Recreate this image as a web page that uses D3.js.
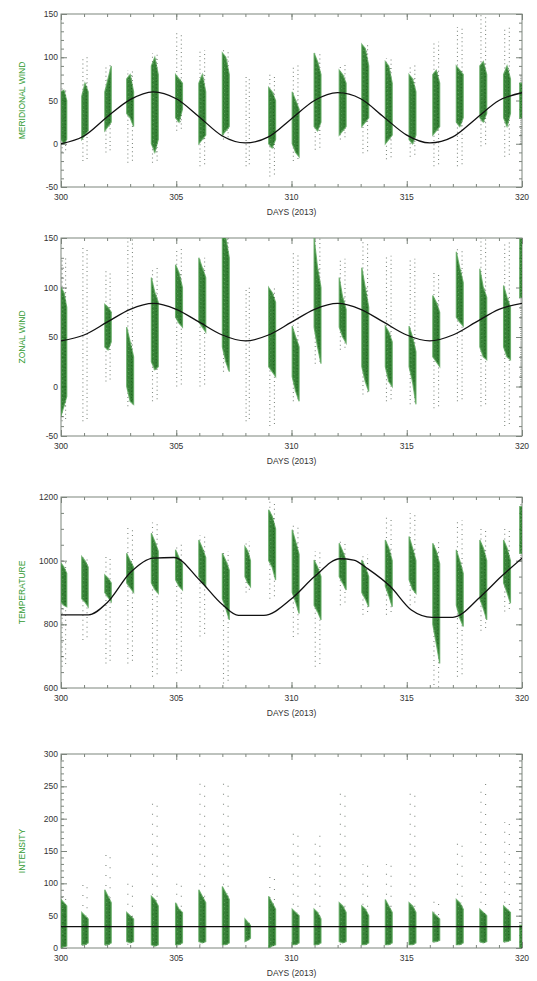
<!DOCTYPE html>
<html>
<head>
<meta charset="utf-8">
<script src="https://cdn.jsdelivr.net/npm/d3@7"></script>
<style>
  body { margin: 0; background: #fff; }
  svg { display: block; }
  text { font-family: "Liberation Sans", Arial, sans-serif; }
</style>
</head>
<body>
<svg id="chart" width="537" height="981"></svg>
<script>
// Observation nights (day of year 2013): start and end of each lidar run
const nightStart = [300.0, 300.9, 301.9, 302.85, 303.92, 304.97, 305.98, 307.0, 307.98, 309.01, 310.03,
                    310.98, 312.07, 313.05, 314.07, 315.1, 316.13, 317.15, 318.17, 319.2, 319.9];
const nightEnd   = [300.25, 301.18, 302.18, 303.15, 304.22, 305.27, 306.28, 307.3, 308.22, 309.31, 310.33,
                    311.28, 312.37, 313.35, 314.37, 315.4, 316.43, 317.45, 318.47, 319.5, 320.0];

const dayTicks = [300, 305, 310, 315, 320];

// Meridional wind (m/s): outer spread and dense core [lo,hi] at start, middle, end of each night
const merTicks = [-50, 0, 50, 100, 150];
const merSpread = [[-10,65],[-20,100],[-10,92],[-22,85],[-22,105],[15,128],[-26,108],[5,108],[-26,78],[-38,80],[-20,91],
                   [-7,105],[5,91],[-11,115],[-18,99],[-15,91],[-26,118],[-26,135],[-3,149],[-15,135],[0,80]];
const merCore = [[5,60,0,62,5,50],[5,55,10,70,15,60],[15,60,20,75,25,90],[35,75,30,80,20,60],[0,90,-10,100,5,80],
                 [30,80,25,75,40,70],[0,70,5,80,10,60],[10,105,15,100,20,80],null,[0,65,-5,60,5,50],[0,60,-10,50,-15,40],
                 [20,105,15,95,25,80],[10,85,15,80,20,70],[20,115,25,110,30,90],[0,95,5,90,10,70],[5,80,0,75,10,60],
                 [10,80,15,85,20,70],[25,90,20,85,30,80],[30,90,25,95,35,80],[30,80,20,90,35,75],[30,70,30,70,30,70]];
const merFitDays = [300,301,302,303,304,305,306,307,308,309,310,311,312,313,314,315,316,317,318,319,320];
const merFit = [0,9,31,51,60,52,31,9,1,8,29,50,59,52,31,10,1,8,29,50,59];

// Zonal wind (m/s)
const zonTicks = [-50, 0, 50, 100, 150];
const zonSpread = [[-35,130],[-35,140],[5,117],[-20,150],[-15,120],[0,140],[0,130],[15,150],[-35,100],[-40,100],[-15,135],
                   [23,152],[37,129],[-8,146],[-15,132],[-18,129],[-22,115],[-15,139],[-20,153],[-40,146],[0,149]];
const zonCore = [[-30,100,-20,95,-10,80],null,[40,83,37,80,45,75],[0,60,-15,45,-18,30],[25,110,17,95,20,85],
                 [70,123,64,115,60,100],[65,130,60,120,55,110],[40,150,25,150,15,130],null,[20,100,15,95,10,85],
                 [10,61,-5,50,-15,40],[60,150,40,120,23,100],[60,110,50,90,44,78],[20,120,5,100,-5,80],[20,61,5,55,0,45],
                 [20,61,5,50,-18,35],[30,92,25,85,20,75],[70,136,65,120,61,105],[40,119,30,100,27,90],
                 [40,102,30,90,27,80],[90,149,90,149,90,149]];
const zonFitDays = [300,301,302,303,304,305,306,307,308,309,310,311,312,313,314,315,316,317,318,319,320];
const zonFit = [46,52,65,78,84,78,65,52,46,52,65,78,84,78,65,52,46,52,65,78,84];

// Temperature (K)
const tmpTicks = [600, 800, 1000, 1200];
const tmpSpread = [[667,1000],[751,1013],[677,1013],[677,1107],[635,1120],[646,1050],[762,1080],[614,1030],[900,1060],
                   [880,1190],[760,1110],[667,1030],[860,1060],[830,1020],[830,1139],[860,1149],[594,1060],[635,1128],
                   [780,1100],[840,1100],[1000,1180]];
const tmpCore = [[870,992,860,980,855,960],[880,1013,870,1000,855,980],[900,955,885,945,871,930],[930,1023,915,1000,900,980],
                 [930,1086,910,1060,897,1030],[940,1034,920,1010,908,990],[950,1065,930,1040,918,1010],
                 [880,1023,850,1000,814,970],[950,1044,930,1030,918,1000],[1000,1160,980,1140,939,1100],
                 [900,1097,870,1060,834,1020],[860,1002,840,980,814,950],[950,1055,930,1030,908,1000],
                 [900,1002,880,980,855,950],[920,1065,890,1040,855,1000],[940,1076,910,1040,897,1000],
                 [800,1055,740,1030,677,990],[860,1034,820,1000,793,960],[880,1065,850,1040,814,1000],
                 [930,1065,900,1040,866,1000],[1023,1170,1023,1170,1023,1170]];
const tmpFitDays = [300,301.2,302,303,304,304.9,306,307,307.7,308.8,310,311,312.1,312.7,313.3,314.3,315.2,316.1,317,318.2,319.1,320];
const tmpFit = [830,830,868,962,1008,1010,940,862,828,828,880,950,1006,1002,975,918,845,822,822,887,950,1008];

// Intensity (arbitrary units)
const intTicks = [0, 50, 100, 150, 200, 250, 300];
const intSpread = [[0,85],[3,100],[3,145],[5,110],[5,225],[5,100],[5,265],[5,260],[10,50],[0,110],[5,180],
                   [5,175],[5,240],[5,130],[5,130],[5,240],[8,75],[5,170],[8,255],[8,195],[0,40]];
const intCore = [[0,75,2,70,3,65],[5,55,5,50,8,45],[5,90,5,80,8,70],[10,55,8,50,10,45],[5,80,3,75,5,65],
                 [5,70,5,60,8,55],[10,90,8,80,10,70],[5,95,5,85,8,75],[10,45,12,40,15,35],[0,80,3,70,5,60],
                 [5,60,5,55,8,50],[5,60,5,55,8,45],[10,70,8,65,10,55],[5,65,5,60,8,50],[5,75,5,65,8,55],
                 [5,70,5,65,8,55],[10,55,10,50,12,45],[5,75,5,70,8,60],[10,60,8,55,10,50],[10,65,10,60,12,55],
                 [0,35,0,35,0,35]];
const intFitDays = [300, 320];
const intFit = [33, 33];

// ---- layout ----
const svg = d3.select("#chart");
const left = 61, right = 522;
const x = d3.scaleLinear().domain([300, 320]).range([left, right]);

const panels = [
  { title: "MERIDIONAL WIND", top: 14, bottom: 187, ticks: merTicks, minorStep: 10,
    spread: merSpread, core: merCore, fitDays: merFitDays, fit: merFit, sparseDash: "1 3.2" },
  { title: "ZONAL WIND", top: 238, bottom: 436, ticks: zonTicks, minorStep: 10,
    spread: zonSpread, core: zonCore, fitDays: zonFitDays, fit: zonFit, sparseDash: "1 3.2" },
  { title: "TEMPERATURE", top: 497, bottom: 688, ticks: tmpTicks, minorStep: 50,
    spread: tmpSpread, core: tmpCore, fitDays: tmpFitDays, fit: tmpFit, sparseDash: "1 3.8" },
  { title: "INTENSITY", top: 754, bottom: 948, ticks: intTicks, minorStep: 10,
    spread: intSpread, core: intCore, fitDays: intFitDays, fit: intFit, sparseDash: "1 9" }
];

const frameColor = "#7d857d";
const coreColor = "#1b6f1b";
const fringeColor = "#5ca85c";
const sparseColor = "#2f3d2f";
const titleColor = "#2f9a2f";

panels.forEach((p, pi) => {
  const lo = p.ticks[0], hi = p.ticks[p.ticks.length - 1];
  const y = d3.scaleLinear().domain([lo, hi]).range([p.bottom, p.top]);
  const g = svg.append("g");

  const clipId = "clip" + pi;
  svg.append("clipPath").attr("id", clipId)
    .append("rect").attr("x", left).attr("y", p.top)
    .attr("width", right - left).attr("height", p.bottom - p.top);

  const data = svg.append("g").attr("clip-path", `url(#${clipId})`);

  // sparse scatter around each night's run
  p.spread.forEach((s, i) => {
    const t0 = nightStart[i], t1 = nightEnd[i];
    [t0 + 0.05, t1 - 0.05].forEach((t, k) => {
      data.append("line")
        .attr("x1", x(t)).attr("x2", x(t))
        .attr("y1", y(s[0])).attr("y2", y(s[1]))
        .attr("stroke", sparseColor).attr("stroke-width", 1.1)
        .attr("stroke-dasharray", p.sparseDash)
        .attr("stroke-dashoffset", k * 2.1)
        .attr("opacity", 0.6);
    });
  });

  // dense core of each night's measurements, as a band through start / middle / end
  const band = d3.area()
    .x(d => x(d[0])).y0(d => y(d[1])).y1(d => y(d[2]));
  p.core.forEach((c, i) => {
    if (!c) return;
    const t0 = nightStart[i], t1 = nightEnd[i];
    const pts = [[t0, c[0], c[1]], [(t0 + t1) / 2, c[2], c[3]], [t1, c[4], c[5]]];
    data.append("path")
      .attr("d", band(pts))
      .attr("fill", coreColor).attr("fill-opacity", 0.88)
      .attr("stroke", fringeColor).attr("stroke-width", 1.2).attr("stroke-opacity", 0.8);
    // speckle texture through the band
    [0.3, 0.7].forEach((f, k) => {
      const t = t0 + (t1 - t0) * f;
      data.append("line")
        .attr("x1", x(t)).attr("x2", x(t))
        .attr("y1", y(c[2])).attr("y2", y(c[3]))
        .attr("stroke", k ? "#0d4a0d" : "#8cc48c").attr("stroke-width", 0.8)
        .attr("stroke-dasharray", k ? "1 2.2" : "0.8 3.4").attr("opacity", 0.7);
    });
  });

  // fitted tidal curve
  const line = d3.line()
    .x(d => x(d[0])).y(d => y(d[1]))
    .curve(d3.curveMonotoneX);
  data.append("path")
    .datum(p.fitDays.map((d, i) => [d, p.fit[i]]))
    .attr("d", line)
    .attr("fill", "none").attr("stroke", "#111").attr("stroke-width", 1.3);

  // frame
  g.append("rect")
    .attr("x", left).attr("y", p.top)
    .attr("width", right - left).attr("height", p.bottom - p.top)
    .attr("fill", "none").attr("stroke", frameColor).attr("stroke-width", 1);

  // x axes (bottom labelled, top unlabelled), ticks pointing inward
  const xMinor = d3.range(300, 321, 1);
  const bottomAxis = d3.axisTop(x).tickValues(dayTicks).tickSize(6).tickFormat("");
  const bottomMinor = d3.axisTop(x).tickValues(xMinor).tickSize(3).tickFormat("");
  const topAxis = d3.axisBottom(x).tickValues(dayTicks).tickSize(6).tickFormat("");
  const topMinor = d3.axisBottom(x).tickValues(xMinor).tickSize(3).tickFormat("");
  [[bottomAxis, p.bottom], [bottomMinor, p.bottom], [topAxis, p.top], [topMinor, p.top]].forEach(([ax, yy]) => {
    const a = g.append("g").attr("transform", `translate(0,${yy})`).call(ax);
    a.select(".domain").remove();
    a.selectAll("line").attr("stroke", frameColor);
  });

  // y axes (left labelled, right unlabelled), ticks pointing inward
  const yMinor = d3.range(lo, hi + 0.001, p.minorStep);
  const leftAxis = d3.axisRight(y).tickValues(p.ticks).tickSize(6).tickFormat("");
  const leftMinor = d3.axisRight(y).tickValues(yMinor).tickSize(3).tickFormat("");
  const rightAxis = d3.axisLeft(y).tickValues(p.ticks).tickSize(6).tickFormat("");
  const rightMinor = d3.axisLeft(y).tickValues(yMinor).tickSize(3).tickFormat("");
  [[leftAxis, left], [leftMinor, left], [rightAxis, right], [rightMinor, right]].forEach(([ax, xx]) => {
    const a = g.append("g").attr("transform", `translate(${xx},0)`).call(ax);
    a.select(".domain").remove();
    a.selectAll("line").attr("stroke", frameColor);
  });

  // tick labels
  g.selectAll(".xl").data(dayTicks).enter().append("text")
    .attr("x", d => x(d)).attr("y", p.bottom + 13)
    .attr("text-anchor", "middle").attr("font-size", 8.5).attr("fill", "#333")
    .text(d => d);
  g.selectAll(".yl").data(p.ticks).enter().append("text")
    .attr("x", left - 3).attr("y", d => y(d) + 3)
    .attr("text-anchor", "end").attr("font-size", 8.5).attr("fill", "#333")
    .text(d => d);

  // axis titles
  g.append("text")
    .attr("x", (left + right) / 2).attr("y", p.bottom + 28)
    .attr("text-anchor", "middle").attr("font-size", 8.5).attr("fill", "#333")
    .text("DAYS (2013)");
  g.append("text")
    .attr("transform", `translate(25,${(p.top + p.bottom) / 2}) rotate(-90)`)
    .attr("text-anchor", "middle").attr("font-size", 8.5).attr("fill", titleColor)
    .text(p.title);
});
</script>
</body>
</html>
